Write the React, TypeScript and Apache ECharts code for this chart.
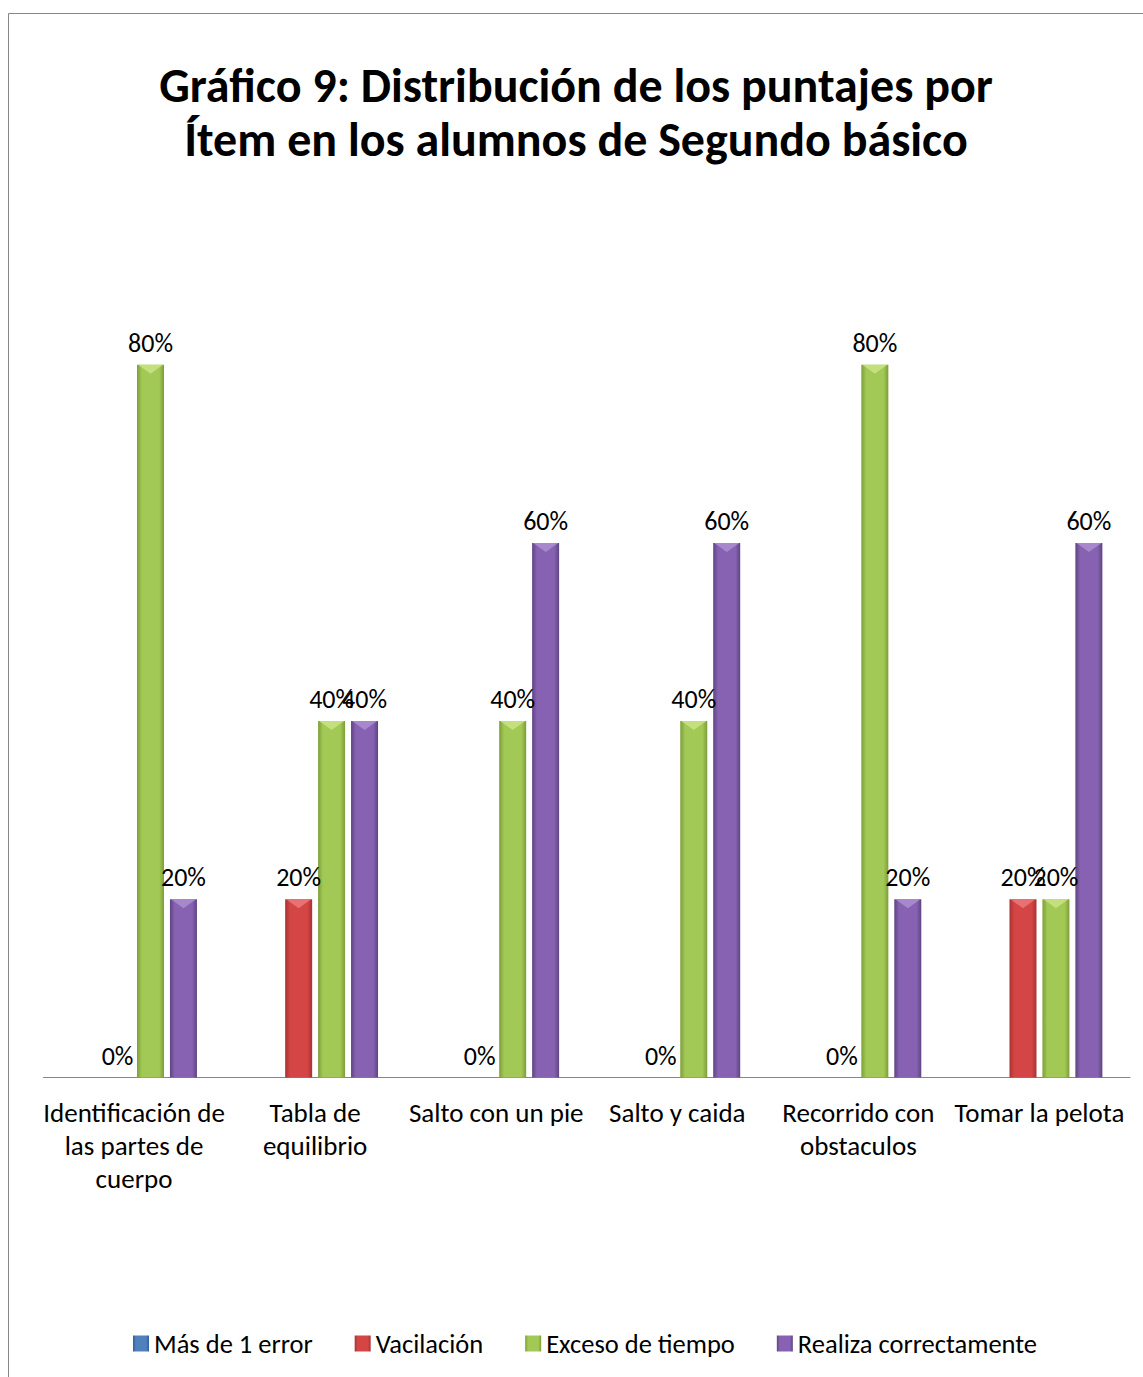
import React, { useEffect, useRef } from "react";
import * as echarts from "echarts";

const categories = [
  "Identificación de las partes de cuerpo",
  "Tabla de equilibrio",
  "Salto con un pie",
  "Salto y caida",
  "Recorrido con obstaculos",
  "Tomar la pelota",
];
const tickLabels = [
  "Identificación de\nlas partes de\ncuerpo",
  "Tabla de\nequilibrio",
  "Salto con un pie",
  "Salto y caida",
  "Recorrido con\nobstaculos",
  "Tomar la pelota",
];
const seriesNames = ["Más de 1 error", "Vacilación", "Exceso de tiempo", "Realiza correctamente"];
const masDeUnError: (number | null)[] = [null, null, null, null, null, null];
const vacilacion = [0, 20, 0, 0, 0, 20];
const excesoDeTiempo = [80, 40, 40, 40, 80, 20];
const realizaCorrectamente = [20, 40, 60, 60, 20, 60];

const FONT = "Carlito, 'Liberation Sans', Arial, sans-serif";

function grad(edge: string, mid: string) {
  return new echarts.graphic.LinearGradient(0, 0, 1, 0, [
    { offset: 0, color: edge },
    { offset: 0.18, color: mid },
    { offset: 0.82, color: mid },
    { offset: 1, color: edge },
  ]);
}

const palette = [
  { edge: "#2f5f98", mid: "#4f81bd", top: "#7ea6d8" },
  { edge: "#a93232", mid: "#d44545", top: "#e87272" },
  { edge: "#7d9e38", mid: "#a2c855", top: "#c3e07c" },
  { edge: "#5e4482", mid: "#8762b2", top: "#a888cc" },
];

const BAR_W = 27;
const BAR_STEP = 33;

export default function App() {
  const ref = useRef<HTMLDivElement>(null);
  useEffect(() => {
    if (!ref.current) return;
    const chart = echarts.init(ref.current, null, { renderer: "svg" });
    const allData = [masDeUnError, vacilacion, excesoDeTiempo, realizaCorrectamente];
    const bevelData: number[][] = [];
    allData.forEach((arr, s) =>
      arr.forEach((v, c) => {
        if (v != null && v > 0) bevelData.push([c, v, s]);
      })
    );
    chart.setOption({
      animation: false,
      backgroundColor: "#ffffff",
      title: {
        text: "Gráfico 9: Distribución de los puntajes por\nÍtem en los alumnos de Segundo básico",
        left: 571,
        top: 53,
        textAlign: "center",
        textStyle: {
          fontFamily: FONT,
          fontSize: 48,
          fontWeight: "bold",
          lineHeight: 54,
          color: "#000000",
        },
      },
      graphic: [
        {
          type: "rect",
          shape: { x: 8.5, y: 13.5, width: 1300, height: 1500 },
          style: { fill: "none", stroke: "#868686", lineWidth: 1 },
          silent: true,
        },
      ],
      legend: {
        data: seriesNames,
        top: 1325,
        left: 128,
        itemGap: 42,
        itemWidth: 16,
        itemHeight: 16,
        icon: "rect",
        textStyle: { fontFamily: FONT, fontSize: 26.5, color: "#000000" },
      },
      grid: { left: 43.5, right: 13, top: 186.5, bottom: 299.5, containLabel: false },
      xAxis: {
        type: "category",
        data: categories,
        axisLine: { lineStyle: { color: "#868686", width: 1 } },
        axisTick: { show: false },
        axisLabel: {
          interval: 0,
          margin: 18,
          fontFamily: FONT,
          fontSize: 27,
          lineHeight: 33,
          color: "#000000",
          formatter: (_v: string, i: number) => tickLabels[i],
        },
      },
      yAxis: {
        type: "value",
        min: 0,
        max: 100,
        show: false,
        splitLine: { show: false },
      },
      series: [
        ...seriesNames.map((name, i) => ({
          name,
          type: "bar",
          data: allData[i],
          barWidth: BAR_W,
          barGap: "22%",
          barCategoryGap: "30%",
          itemStyle: { color: grad(palette[i].edge, palette[i].mid) },
          label: {
            show: true,
            position: "top",
            distance: 9,
            fontFamily: FONT,
            fontSize: 26,
            color: "#000000",
            formatter: (p: any) => (p.value == null ? "" : `${p.value}%`),
          },
        })),
        {
          name: "bevel",
          type: "custom",
          silent: true,
          z: 5,
          data: bevelData,
          encode: { x: 0, y: 1 },
          renderItem: (_params: any, api: any) => {
            const c = api.value(0);
            const v = api.value(1);
            const s = api.value(2);
            const pt = api.coord([c, v]);
            const x0 = pt[0] + (s - 1.5) * BAR_STEP - BAR_W / 2;
            const y = pt[1];
            return {
              type: "polygon",
              shape: {
                points: [
                  [x0 + 1, y],
                  [x0 + BAR_W - 1, y],
                  [x0 + BAR_W / 2, y + 9],
                ],
              },
              style: { fill: palette[s].top },
            };
          },
        },
      ],
    });
    return () => chart.dispose();
  }, []);
  return (
    <div
      ref={ref}
      style={{ position: "fixed", left: 0, top: 0, width: 1143, height: 1377 }}
    />
  );
}
